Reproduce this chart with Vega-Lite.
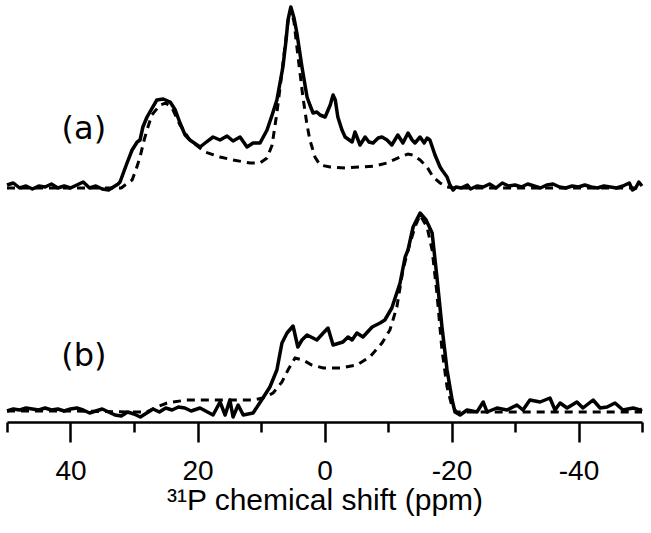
{
  "$schema": "https://vega.github.io/schema/vega-lite/v6.json",
  "width": 635,
  "height": 422,
  "autosize": {"type": "none"},
  "padding": {"left": 7, "top": 0, "right": 9, "bottom": 111},
  "background": "white",
  "config": {"view": {"stroke": null}},
  "datasets": {
    "spectra": [
      {"spectrum":"a","curve":"exp","ppm":50,"intensity":237},{"spectrum":"a","curve":"exp","ppm":49,"intensity":239},{"spectrum":"a","curve":"exp","ppm":48,"intensity":234},{"spectrum":"a","curve":"exp","ppm":47,"intensity":236},{"spectrum":"a","curve":"exp","ppm":46,"intensity":233},{"spectrum":"a","curve":"exp","ppm":45,"intensity":236},{"spectrum":"a","curve":"exp","ppm":44,"intensity":235},{"spectrum":"a","curve":"exp","ppm":43,"intensity":238},{"spectrum":"a","curve":"exp","ppm":42,"intensity":234},{"spectrum":"a","curve":"exp","ppm":41,"intensity":236},{"spectrum":"a","curve":"exp","ppm":40,"intensity":234},{"spectrum":"a","curve":"exp","ppm":39,"intensity":237},{"spectrum":"a","curve":"exp","ppm":38,"intensity":240},{"spectrum":"a","curve":"exp","ppm":37,"intensity":234},{"spectrum":"a","curve":"exp","ppm":36,"intensity":236},{"spectrum":"a","curve":"exp","ppm":35,"intensity":233},{"spectrum":"a","curve":"exp","ppm":34,"intensity":232},{"spectrum":"a","curve":"exp","ppm":33,"intensity":236},{"spectrum":"a","curve":"exp","ppm":32.5,"intensity":238},{"spectrum":"a","curve":"exp","ppm":32.2,"intensity":240},{"spectrum":"a","curve":"exp","ppm":31.1,"intensity":259},{"spectrum":"a","curve":"exp","ppm":30.3,"intensity":272},{"spectrum":"a","curve":"exp","ppm":29.5,"intensity":280},{"spectrum":"a","curve":"exp","ppm":29.05,"intensity":282},{"spectrum":"a","curve":"exp","ppm":28.6,"intensity":295},{"spectrum":"a","curve":"exp","ppm":27.95,"intensity":305},{"spectrum":"a","curve":"exp","ppm":27.5,"intensity":310},{"spectrum":"a","curve":"exp","ppm":26.4,"intensity":322},{"spectrum":"a","curve":"exp","ppm":25.4,"intensity":323},{"spectrum":"a","curve":"exp","ppm":24.3,"intensity":320},{"spectrum":"a","curve":"exp","ppm":23.5,"intensity":312},{"spectrum":"a","curve":"exp","ppm":22.75,"intensity":299},{"spectrum":"a","curve":"exp","ppm":21.95,"intensity":287},{"spectrum":"a","curve":"exp","ppm":21.2,"intensity":282},{"spectrum":"a","curve":"exp","ppm":19.6,"intensity":275},{"spectrum":"a","curve":"exp","ppm":18.8,"intensity":279},{"spectrum":"a","curve":"exp","ppm":17.55,"intensity":285},{"spectrum":"a","curve":"exp","ppm":16.45,"intensity":282},{"spectrum":"a","curve":"exp","ppm":15.35,"intensity":286},{"spectrum":"a","curve":"exp","ppm":14.4,"intensity":281},{"spectrum":"a","curve":"exp","ppm":13.3,"intensity":285},{"spectrum":"a","curve":"exp","ppm":12.2,"intensity":275},{"spectrum":"a","curve":"exp","ppm":11.25,"intensity":279},{"spectrum":"a","curve":"exp","ppm":10.15,"intensity":279},{"spectrum":"a","curve":"exp","ppm":9.05,"intensity":292},{"spectrum":"a","curve":"exp","ppm":8.25,"intensity":307},{"spectrum":"a","curve":"exp","ppm":7.5,"intensity":322},{"spectrum":"a","curve":"exp","ppm":6.55,"intensity":355},{"spectrum":"a","curve":"exp","ppm":6.05,"intensity":382},{"spectrum":"a","curve":"exp","ppm":5.75,"intensity":402},{"spectrum":"a","curve":"exp","ppm":5.3,"intensity":415},{"spectrum":"a","curve":"exp","ppm":4.8,"intensity":404},{"spectrum":"a","curve":"exp","ppm":4.35,"intensity":389},{"spectrum":"a","curve":"exp","ppm":3.55,"intensity":355},{"spectrum":"a","curve":"exp","ppm":2.75,"intensity":325},{"spectrum":"a","curve":"exp","ppm":2.3,"intensity":317},{"spectrum":"a","curve":"exp","ppm":1.8,"intensity":309},{"spectrum":"a","curve":"exp","ppm":1.2,"intensity":310},{"spectrum":"a","curve":"exp","ppm":0.7,"intensity":307},{"spectrum":"a","curve":"exp","ppm":-0.1,"intensity":305},{"spectrum":"a","curve":"exp","ppm":-0.9,"intensity":317},{"spectrum":"a","curve":"exp","ppm":-1.35,"intensity":327},{"spectrum":"a","curve":"exp","ppm":-1.7,"intensity":322},{"spectrum":"a","curve":"exp","ppm":-2.1,"intensity":305},{"spectrum":"a","curve":"exp","ppm":-2.75,"intensity":292},{"spectrum":"a","curve":"exp","ppm":-3.25,"intensity":285},{"spectrum":"a","curve":"exp","ppm":-4.35,"intensity":280},{"spectrum":"a","curve":"exp","ppm":-4.8,"intensity":290},{"spectrum":"a","curve":"exp","ppm":-5.6,"intensity":277},{"spectrum":"a","curve":"exp","ppm":-6.4,"intensity":285},{"spectrum":"a","curve":"exp","ppm":-7,"intensity":280},{"spectrum":"a","curve":"exp","ppm":-7.65,"intensity":279},{"spectrum":"a","curve":"exp","ppm":-8.45,"intensity":284},{"spectrum":"a","curve":"exp","ppm":-9.05,"intensity":285},{"spectrum":"a","curve":"exp","ppm":-9.85,"intensity":282},{"spectrum":"a","curve":"exp","ppm":-10.6,"intensity":277},{"spectrum":"a","curve":"exp","ppm":-11.55,"intensity":287},{"spectrum":"a","curve":"exp","ppm":-12.35,"intensity":279},{"spectrum":"a","curve":"exp","ppm":-13.15,"intensity":289},{"spectrum":"a","curve":"exp","ppm":-13.8,"intensity":282},{"spectrum":"a","curve":"exp","ppm":-14.25,"intensity":279},{"spectrum":"a","curve":"exp","ppm":-15.05,"intensity":285},{"spectrum":"a","curve":"exp","ppm":-15.7,"intensity":279},{"spectrum":"a","curve":"exp","ppm":-16.15,"intensity":284},{"spectrum":"a","curve":"exp","ppm":-16.6,"intensity":282},{"spectrum":"a","curve":"exp","ppm":-17.4,"intensity":267},{"spectrum":"a","curve":"exp","ppm":-18.2,"intensity":255},{"spectrum":"a","curve":"exp","ppm":-18.5,"intensity":252},{"spectrum":"a","curve":"exp","ppm":-19.3,"intensity":245},{"spectrum":"a","curve":"exp","ppm":-19.75,"intensity":237},{"spectrum":"a","curve":"exp","ppm":-20.25,"intensity":232},{"spectrum":"a","curve":"exp","ppm":-20.7,"intensity":235},{"spectrum":"a","curve":"exp","ppm":-21.5,"intensity":234},{"spectrum":"a","curve":"exp","ppm":-22.5,"intensity":237},{"spectrum":"a","curve":"exp","ppm":-23,"intensity":233},{"spectrum":"a","curve":"exp","ppm":-24,"intensity":236},{"spectrum":"a","curve":"exp","ppm":-25,"intensity":235},{"spectrum":"a","curve":"exp","ppm":-26,"intensity":238},{"spectrum":"a","curve":"exp","ppm":-27,"intensity":234},{"spectrum":"a","curve":"exp","ppm":-28,"intensity":239},{"spectrum":"a","curve":"exp","ppm":-29,"intensity":236},{"spectrum":"a","curve":"exp","ppm":-30,"intensity":237},{"spectrum":"a","curve":"exp","ppm":-31,"intensity":235},{"spectrum":"a","curve":"exp","ppm":-32,"intensity":238},{"spectrum":"a","curve":"exp","ppm":-33,"intensity":236},{"spectrum":"a","curve":"exp","ppm":-34,"intensity":234},{"spectrum":"a","curve":"exp","ppm":-35,"intensity":237},{"spectrum":"a","curve":"exp","ppm":-36,"intensity":238},{"spectrum":"a","curve":"exp","ppm":-37,"intensity":235},{"spectrum":"a","curve":"exp","ppm":-38,"intensity":234},{"spectrum":"a","curve":"exp","ppm":-39,"intensity":236},{"spectrum":"a","curve":"exp","ppm":-40,"intensity":235},{"spectrum":"a","curve":"exp","ppm":-41,"intensity":237},{"spectrum":"a","curve":"exp","ppm":-42,"intensity":235},{"spectrum":"a","curve":"exp","ppm":-43,"intensity":234},{"spectrum":"a","curve":"exp","ppm":-44,"intensity":236},{"spectrum":"a","curve":"exp","ppm":-45,"intensity":235},{"spectrum":"a","curve":"exp","ppm":-46,"intensity":234},{"spectrum":"a","curve":"exp","ppm":-47,"intensity":236},{"spectrum":"a","curve":"exp","ppm":-48,"intensity":239},{"spectrum":"a","curve":"exp","ppm":-48.5,"intensity":232},{"spectrum":"a","curve":"exp","ppm":-49,"intensity":234},{"spectrum":"a","curve":"exp","ppm":-49.5,"intensity":240},{"spectrum":"a","curve":"exp","ppm":-50,"intensity":236},

      {"spectrum":"a","curve":"sim","ppm":50,"intensity":234},{"spectrum":"a","curve":"sim","ppm":40,"intensity":234},{"spectrum":"a","curve":"sim","ppm":32,"intensity":234},{"spectrum":"a","curve":"sim","ppm":31.4,"intensity":237},{"spectrum":"a","curve":"sim","ppm":30.3,"intensity":242},{"spectrum":"a","curve":"sim","ppm":29.7,"intensity":252},{"spectrum":"a","curve":"sim","ppm":29.05,"intensity":265},{"spectrum":"a","curve":"sim","ppm":28.4,"intensity":282},{"spectrum":"a","curve":"sim","ppm":27.95,"intensity":292},{"spectrum":"a","curve":"sim","ppm":27.2,"intensity":307},{"spectrum":"a","curve":"sim","ppm":25.9,"intensity":317},{"spectrum":"a","curve":"sim","ppm":25,"intensity":319},{"spectrum":"a","curve":"sim","ppm":24,"intensity":314},{"spectrum":"a","curve":"sim","ppm":22.75,"intensity":297},{"spectrum":"a","curve":"sim","ppm":21.2,"intensity":282},{"spectrum":"a","curve":"sim","ppm":18.8,"intensity":270},{"spectrum":"a","curve":"sim","ppm":16.45,"intensity":265},{"spectrum":"a","curve":"sim","ppm":14.4,"intensity":262},{"spectrum":"a","curve":"sim","ppm":11.7,"intensity":259},{"spectrum":"a","curve":"sim","ppm":10.15,"intensity":259},{"spectrum":"a","curve":"sim","ppm":9.05,"intensity":264},{"spectrum":"a","curve":"sim","ppm":8.25,"intensity":277},{"spectrum":"a","curve":"sim","ppm":7.5,"intensity":309},{"spectrum":"a","curve":"sim","ppm":6.85,"intensity":342},{"spectrum":"a","curve":"sim","ppm":6.2,"intensity":377},{"spectrum":"a","curve":"sim","ppm":5.75,"intensity":400},{"spectrum":"a","curve":"sim","ppm":5.3,"intensity":413},{"spectrum":"a","curve":"sim","ppm":4.8,"intensity":400},{"spectrum":"a","curve":"sim","ppm":4.2,"intensity":367},{"spectrum":"a","curve":"sim","ppm":3.4,"intensity":325},{"spectrum":"a","curve":"sim","ppm":2.75,"intensity":297},{"spectrum":"a","curve":"sim","ppm":2.3,"intensity":282},{"spectrum":"a","curve":"sim","ppm":1.5,"intensity":265},{"spectrum":"a","curve":"sim","ppm":0.7,"intensity":257},{"spectrum":"a","curve":"sim","ppm":-0.9,"intensity":255},{"spectrum":"a","curve":"sim","ppm":-3.25,"intensity":254},{"spectrum":"a","curve":"sim","ppm":-5.6,"intensity":255},{"spectrum":"a","curve":"sim","ppm":-7.95,"intensity":256},{"spectrum":"a","curve":"sim","ppm":-9.85,"intensity":259},{"spectrum":"a","curve":"sim","ppm":-11.9,"intensity":265},{"spectrum":"a","curve":"sim","ppm":-13.15,"intensity":268},{"spectrum":"a","curve":"sim","ppm":-13.95,"intensity":267},{"spectrum":"a","curve":"sim","ppm":-15.05,"intensity":262},{"spectrum":"a","curve":"sim","ppm":-16.15,"intensity":255},{"spectrum":"a","curve":"sim","ppm":-17.1,"intensity":245},{"spectrum":"a","curve":"sim","ppm":-18.2,"intensity":239},{"spectrum":"a","curve":"sim","ppm":-19.3,"intensity":235},{"spectrum":"a","curve":"sim","ppm":-20.55,"intensity":234},{"spectrum":"a","curve":"sim","ppm":-30,"intensity":234},{"spectrum":"a","curve":"sim","ppm":-50,"intensity":234},

      {"spectrum":"b","curve":"exp","ppm":50,"intensity":11},{"spectrum":"b","curve":"exp","ppm":49,"intensity":13},{"spectrum":"b","curve":"exp","ppm":48,"intensity":12},{"spectrum":"b","curve":"exp","ppm":47,"intensity":14},{"spectrum":"b","curve":"exp","ppm":46,"intensity":13},{"spectrum":"b","curve":"exp","ppm":45,"intensity":12},{"spectrum":"b","curve":"exp","ppm":44,"intensity":14},{"spectrum":"b","curve":"exp","ppm":43,"intensity":12},{"spectrum":"b","curve":"exp","ppm":42,"intensity":13},{"spectrum":"b","curve":"exp","ppm":41,"intensity":11},{"spectrum":"b","curve":"exp","ppm":40,"intensity":13},{"spectrum":"b","curve":"exp","ppm":39,"intensity":14},{"spectrum":"b","curve":"exp","ppm":38,"intensity":12},{"spectrum":"b","curve":"exp","ppm":37,"intensity":9},{"spectrum":"b","curve":"exp","ppm":36,"intensity":11},{"spectrum":"b","curve":"exp","ppm":35,"intensity":13},{"spectrum":"b","curve":"exp","ppm":34,"intensity":10},{"spectrum":"b","curve":"exp","ppm":33,"intensity":7},{"spectrum":"b","curve":"exp","ppm":32,"intensity":6},{"spectrum":"b","curve":"exp","ppm":31,"intensity":10},{"spectrum":"b","curve":"exp","ppm":30,"intensity":8},{"spectrum":"b","curve":"exp","ppm":29,"intensity":5},{"spectrum":"b","curve":"exp","ppm":28,"intensity":9},{"spectrum":"b","curve":"exp","ppm":27,"intensity":13},{"spectrum":"b","curve":"exp","ppm":26,"intensity":10},{"spectrum":"b","curve":"exp","ppm":25,"intensity":14},{"spectrum":"b","curve":"exp","ppm":24,"intensity":12},{"spectrum":"b","curve":"exp","ppm":23,"intensity":15},{"spectrum":"b","curve":"exp","ppm":22,"intensity":14},{"spectrum":"b","curve":"exp","ppm":21,"intensity":11},{"spectrum":"b","curve":"exp","ppm":19.6,"intensity":14},{"spectrum":"b","curve":"exp","ppm":17.55,"intensity":7},{"spectrum":"b","curve":"exp","ppm":16.45,"intensity":20},{"spectrum":"b","curve":"exp","ppm":15.65,"intensity":7},{"spectrum":"b","curve":"exp","ppm":14.9,"intensity":22},{"spectrum":"b","curve":"exp","ppm":14.4,"intensity":5},{"spectrum":"b","curve":"exp","ppm":13.6,"intensity":17},{"spectrum":"b","curve":"exp","ppm":12.8,"intensity":7},{"spectrum":"b","curve":"exp","ppm":11.25,"intensity":9},{"spectrum":"b","curve":"exp","ppm":9.7,"intensity":24},{"spectrum":"b","curve":"exp","ppm":8.6,"intensity":35},{"spectrum":"b","curve":"exp","ppm":7.5,"intensity":52},{"spectrum":"b","curve":"exp","ppm":6.7,"intensity":79},{"spectrum":"b","curve":"exp","ppm":5.9,"intensity":89},{"spectrum":"b","curve":"exp","ppm":4.95,"intensity":96},{"spectrum":"b","curve":"exp","ppm":4.2,"intensity":75},{"spectrum":"b","curve":"exp","ppm":3.55,"intensity":82},{"spectrum":"b","curve":"exp","ppm":2.75,"intensity":87},{"spectrum":"b","curve":"exp","ppm":1.2,"intensity":82},{"spectrum":"b","curve":"exp","ppm":0.2,"intensity":89},{"spectrum":"b","curve":"exp","ppm":-0.55,"intensity":94},{"spectrum":"b","curve":"exp","ppm":-1.35,"intensity":77},{"spectrum":"b","curve":"exp","ppm":-2.9,"intensity":80},{"spectrum":"b","curve":"exp","ppm":-3.7,"intensity":85},{"spectrum":"b","curve":"exp","ppm":-4.35,"intensity":82},{"spectrum":"b","curve":"exp","ppm":-5.1,"intensity":89},{"spectrum":"b","curve":"exp","ppm":-6.05,"intensity":85},{"spectrum":"b","curve":"exp","ppm":-7.5,"intensity":95},{"spectrum":"b","curve":"exp","ppm":-8.75,"intensity":99},{"spectrum":"b","curve":"exp","ppm":-9.5,"intensity":102},{"spectrum":"b","curve":"exp","ppm":-10.6,"intensity":114},{"spectrum":"b","curve":"exp","ppm":-11.9,"intensity":139},{"spectrum":"b","curve":"exp","ppm":-12.7,"intensity":165},{"spectrum":"b","curve":"exp","ppm":-13.15,"intensity":172},{"spectrum":"b","curve":"exp","ppm":-13.95,"intensity":195},{"spectrum":"b","curve":"exp","ppm":-15.05,"intensity":209},{"spectrum":"b","curve":"exp","ppm":-16,"intensity":202},{"spectrum":"b","curve":"exp","ppm":-16.95,"intensity":189},{"spectrum":"b","curve":"exp","ppm":-17.7,"intensity":145},{"spectrum":"b","curve":"exp","ppm":-18.5,"intensity":95},{"spectrum":"b","curve":"exp","ppm":-19.3,"intensity":52},{"spectrum":"b","curve":"exp","ppm":-20.1,"intensity":22},{"spectrum":"b","curve":"exp","ppm":-20.55,"intensity":10},{"spectrum":"b","curve":"exp","ppm":-21.35,"intensity":7},{"spectrum":"b","curve":"exp","ppm":-22.45,"intensity":12},{"spectrum":"b","curve":"exp","ppm":-24,"intensity":10},{"spectrum":"b","curve":"exp","ppm":-25,"intensity":20},{"spectrum":"b","curve":"exp","ppm":-25.6,"intensity":10},{"spectrum":"b","curve":"exp","ppm":-27.15,"intensity":14},{"spectrum":"b","curve":"exp","ppm":-28.75,"intensity":12},{"spectrum":"b","curve":"exp","ppm":-30.3,"intensity":17},{"spectrum":"b","curve":"exp","ppm":-31.25,"intensity":12},{"spectrum":"b","curve":"exp","ppm":-32.35,"intensity":22},{"spectrum":"b","curve":"exp","ppm":-33.95,"intensity":20},{"spectrum":"b","curve":"exp","ppm":-35.5,"intensity":24},{"spectrum":"b","curve":"exp","ppm":-36.3,"intensity":12},{"spectrum":"b","curve":"exp","ppm":-37.1,"intensity":19},{"spectrum":"b","curve":"exp","ppm":-38.2,"intensity":14},{"spectrum":"b","curve":"exp","ppm":-39.75,"intensity":20},{"spectrum":"b","curve":"exp","ppm":-40.7,"intensity":14},{"spectrum":"b","curve":"exp","ppm":-42.3,"intensity":22},{"spectrum":"b","curve":"exp","ppm":-43.4,"intensity":14},{"spectrum":"b","curve":"exp","ppm":-44.5,"intensity":15},{"spectrum":"b","curve":"exp","ppm":-45.75,"intensity":19},{"spectrum":"b","curve":"exp","ppm":-47,"intensity":12},{"spectrum":"b","curve":"exp","ppm":-48.6,"intensity":14},{"spectrum":"b","curve":"exp","ppm":-49.7,"intensity":12},{"spectrum":"b","curve":"exp","ppm":-50,"intensity":13},

      {"spectrum":"b","curve":"sim","ppm":50,"intensity":11},{"spectrum":"b","curve":"sim","ppm":40,"intensity":11},{"spectrum":"b","curve":"sim","ppm":30.2,"intensity":10},{"spectrum":"b","curve":"sim","ppm":28,"intensity":10},{"spectrum":"b","curve":"sim","ppm":26.4,"intensity":15},{"spectrum":"b","curve":"sim","ppm":24.8,"intensity":19},{"spectrum":"b","curve":"sim","ppm":21.7,"intensity":22},{"spectrum":"b","curve":"sim","ppm":11.25,"intensity":22},{"spectrum":"b","curve":"sim","ppm":9.7,"intensity":24},{"spectrum":"b","curve":"sim","ppm":8.1,"intensity":29},{"spectrum":"b","curve":"sim","ppm":6.7,"intensity":40},{"spectrum":"b","curve":"sim","ppm":5.75,"intensity":52},{"spectrum":"b","curve":"sim","ppm":4.65,"intensity":64},{"spectrum":"b","curve":"sim","ppm":3.4,"intensity":62},{"spectrum":"b","curve":"sim","ppm":2,"intensity":57},{"spectrum":"b","curve":"sim","ppm":0.2,"intensity":54},{"spectrum":"b","curve":"sim","ppm":-2.45,"intensity":54},{"spectrum":"b","curve":"sim","ppm":-5.1,"intensity":57},{"spectrum":"b","curve":"sim","ppm":-7.15,"intensity":65},{"spectrum":"b","curve":"sim","ppm":-9.05,"intensity":79},{"spectrum":"b","curve":"sim","ppm":-10.3,"intensity":92},{"spectrum":"b","curve":"sim","ppm":-11.4,"intensity":115},{"spectrum":"b","curve":"sim","ppm":-12.35,"intensity":152},{"spectrum":"b","curve":"sim","ppm":-13.15,"intensity":172},{"spectrum":"b","curve":"sim","ppm":-14.25,"intensity":195},{"spectrum":"b","curve":"sim","ppm":-15.05,"intensity":207},{"spectrum":"b","curve":"sim","ppm":-16.15,"intensity":195},{"spectrum":"b","curve":"sim","ppm":-16.95,"intensity":172},{"spectrum":"b","curve":"sim","ppm":-17.7,"intensity":129},{"spectrum":"b","curve":"sim","ppm":-18.5,"intensity":72},{"spectrum":"b","curve":"sim","ppm":-19.3,"intensity":35},{"spectrum":"b","curve":"sim","ppm":-20.1,"intensity":15},{"spectrum":"b","curve":"sim","ppm":-20.85,"intensity":10},{"spectrum":"b","curve":"sim","ppm":-50,"intensity":10}
    ],
    "labels": [
      {"label":"(a)","ppm":37.9,"intensity":293},
      {"label":"(b)","ppm":37.9,"intensity":66}
    ]
  },
  "layer": [
    {
      "data": {"name": "spectra"},
      "transform": [{"filter": "datum.curve === 'sim'"}],
      "mark": {"type": "line", "color": "black", "strokeWidth": 3, "strokeDash": [8, 6], "interpolate": "linear"},
      "encoding": {
        "x": {
          "field": "ppm", "type": "quantitative",
          "scale": {"domain": [-50, 50], "reverse": true, "nice": false},
          "axis": {
            "values": [50, 40, 30, 20, 10, 0, -10, -20, -30, -40, -50],
            "labelExpr": "datum.value % 20 === 0 ? replace(datum.label, '−', '-') : ''",
            "title": "³¹P chemical shift (ppm)",
            "grid": false,
            "domainColor": "black", "domainWidth": 2.5,
            "tickColor": "black", "tickWidth": 2.5,
            "tickSize": {"condition": {"test": "datum.value % 20 === 0", "value": 20}, "value": 10},
            "labelFont": "Liberation Sans", "labelFontSize": 28, "labelColor": "black", "labelPadding": 15,
            "labelFlush": false, "labelOverlap": false,
            "titleFont": "Liberation Sans", "titleFontSize": 30, "titleFontWeight": "normal", "titleColor": "black", "titlePadding": 0
          }
        },
        "y": {"field": "intensity", "type": "quantitative", "scale": {"domain": [0, 422], "nice": false, "zero": false}, "axis": null},
        "detail": {"field": "spectrum"}
      }
    },
    {
      "data": {"name": "spectra"},
      "transform": [{"filter": "datum.curve === 'exp'"}],
      "mark": {"type": "line", "color": "black", "strokeWidth": 3.5, "strokeJoin": "round"},
      "encoding": {
        "x": {"field": "ppm", "type": "quantitative"},
        "y": {"field": "intensity", "type": "quantitative"},
        "detail": {"field": "spectrum"}
      }
    },
    {
      "data": {"name": "labels"},
      "mark": {"type": "text", "font": "DejaVu Sans", "fontSize": 32, "color": "black", "align": "center", "baseline": "middle"},
      "encoding": {
        "x": {"field": "ppm", "type": "quantitative"},
        "y": {"field": "intensity", "type": "quantitative"},
        "text": {"field": "label"}
      }
    }
  ]
}
